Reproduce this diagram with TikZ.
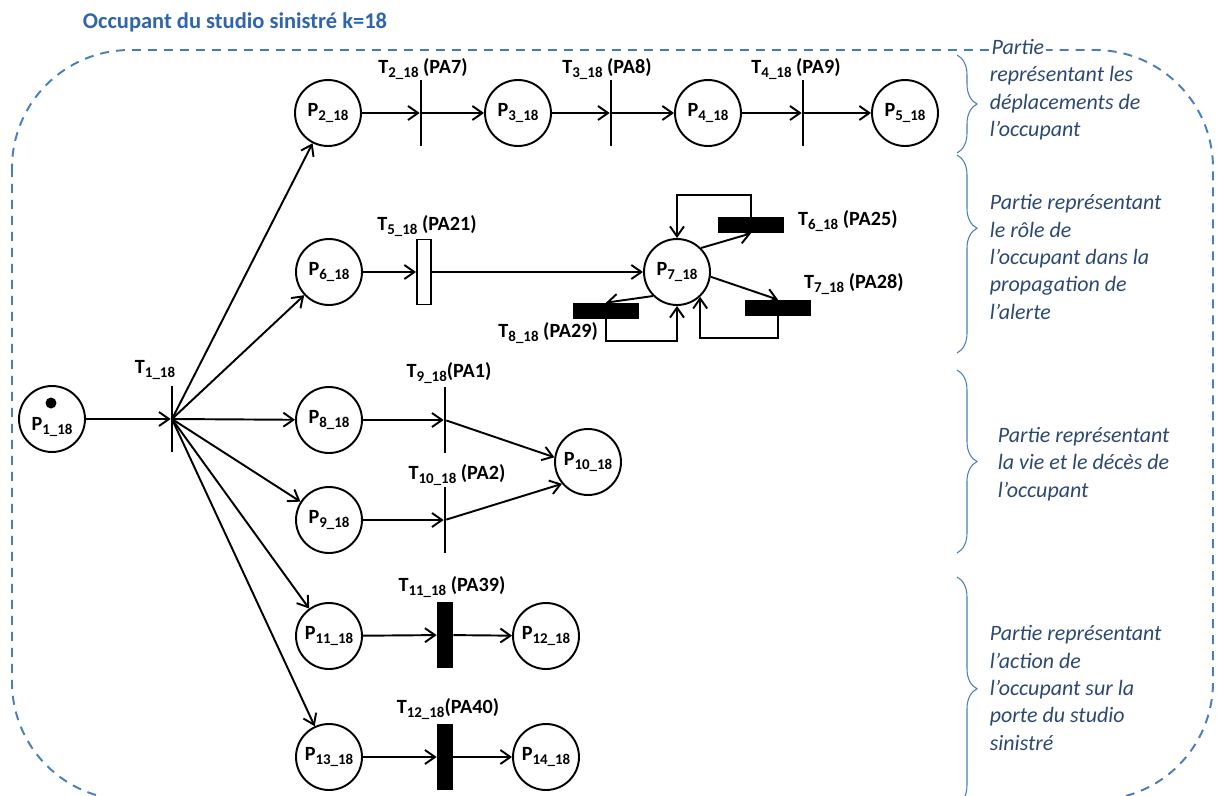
\documentclass[tikz,border=0pt]{standalone}
\usepackage{fontspec}
\setmainfont{Carlito}
\usepackage{xcolor}
\usepackage{tikz}
\usetikzlibrary{
  arrows.meta, positioning, calc, decorations.pathreplacing
}
\definecolor{frameblue}{RGB}{74,126,187}
\definecolor{titleblue}{RGB}{47,101,172}
\definecolor{notetext}{RGB}{44,72,114}
\newcommand{\subidx}[1]{\raisebox{-2.4pt}{\fontsize{8.5}{10}\selectfont#1\_18}}
\newcommand{\Pn}[1]{P\subidx{#1}}
\newcommand{\Tn}[1]{T\subidx{#1}}
\tikzset{
  place/.style={
    circle, draw, line width=1.1pt, minimum size=1.32cm, inner sep=0pt,
    font=\bfseries\fontsize{11.5}{13}\selectfont
  },
  tbar/.style={
    rectangle, fill=black, minimum width=1.1pt, minimum height=1.32cm,
    inner sep=0pt
  },
  tbox/.style={
    rectangle, draw, line width=1.1pt, fill=white, minimum width=0.28cm,
    minimum height=1.3cm, inner sep=0pt
  },
  tblockv/.style={
    rectangle, fill=black, minimum width=0.32cm, minimum height=1.32cm,
    inner sep=0pt
  },
  tblockh/.style={
    rectangle, fill=black, minimum width=1.32cm, minimum height=0.32cm,
    inner sep=0pt
  },
  tlabel/.style={
    font=\bfseries\fontsize{11.5}{13}\selectfont, inner sep=1pt
  },
  arc/.style={
    -{Straight Barb[length=2mm, width=2.8mm]}, line width=1.1pt
  },
  partbrace/.style={
    decorate, decoration={brace, amplitude=0.4cm}, draw=frameblue,
    line width=0.6pt
  },
  partnote/.style={
    anchor=west, align=left, inner sep=2pt,
    font=\itshape\fontsize{12.5}{15.6}\selectfont, text=notetext
  },
}

\begin{document}
\begin{tikzpicture}[
  x=0.02cm, y=-0.02cm,
  frame/.style={draw=frameblue, line width=1.1pt,
    dash pattern=on 0.18cm off 0.14cm, rounded corners=2.36cm},
  token/.style={circle, fill=black, minimum size=0.22cm, inner sep=0pt},
]
  \clip (0,0) rectangle (1217,795);

  % --- Frame and title ---
  \draw[frame] (12,50) rectangle (1213,800);
  \node[font=\bfseries\fontsize{12.8}{15}\selectfont, text=titleblue]
    (title) at (235,22) {Occupant du studio sinistré k=18};

  % --- Places ---
  \node[place] (P1) at (52,419) {\raisebox{-0.22cm}[0pt][0pt]{\Pn{1}}};
  \node[token] (tok) at (51,403) {};
  \node[place] (P2) at (328,113) {\Pn{2}};
  \node[place] (P3) at (518,113) {\Pn{3}};
  \node[place] (P4) at (708,113) {\Pn{4}};
  \node[place] (P5) at (905,113) {\Pn{5}};
  \node[place] (P6) at (329,272) {\Pn{6}};
  \node[place] (P7) at (677,272) {\Pn{7}};
  \node[place] (P8) at (329,420) {\Pn{8}};
  \node[place] (P9) at (329,520) {\Pn{9}};
  \node[place] (P10) at (588,462) {\Pn{10}};
  \node[place] (P11) at (329,636) {\Pn{11}};
  \node[place] (P12) at (546,636) {\Pn{12}};
  \node[place] (P13) at (329,757) {\Pn{13}};
  \node[place] (P14) at (546,757) {\Pn{14}};

  % --- Transitions ---
  \node[tbar] (T1) at (172,419) {};
  \node[tbar] (T2) at (421,113) {};
  \node[tbar] (T3) at (611,113) {};
  \node[tbar] (T4) at (803,113) {};
  \node[tbox] (T5) at (424,272) {};
  \node[tblockh] (T6) at (751,225) {};
  \node[tblockh] (T7) at (778,308) {};
  \node[tblockh] (T8) at (606,311) {};
  \node[tbar] (T9) at (445,420) {};
  \node[tbar] (T10) at (445,520) {};
  \node[tblockv] (T11) at (445,635) {};
  \node[tblockv] (T12) at (445,757) {};

  % --- Transition labels ---
  \node[tlabel] (lT1) at (155,370) {\Tn{1}};
  \node[tlabel] (lT2) at (423,69) {\Tn{2} (PA7)};
  \node[tlabel] (lT3) at (607,69) {\Tn{3} (PA8)};
  \node[tlabel] (lT4) at (796,69) {\Tn{4} (PA9)};
  \node[tlabel] (lT5) at (427,226) {\Tn{5} (PA21)};
  \node[tlabel, anchor=west] (lT6) at (796,221) {\Tn{6} (PA25)};
  \node[tlabel, anchor=west] (lT7) at (802,284) {\Tn{7} (PA28)};
  \node[tlabel, anchor=east] (lT8) at (600,333) {\Tn{8} (PA29)};
  \node[tlabel] (lT9) at (449,373) {\Tn{9}(PA1)};
  \node[tlabel] (lT10) at (457,475) {\Tn{10} (PA2)};
  \node[tlabel] (lT11) at (452,587) {\Tn{11} (PA39)};
  \node[tlabel] (lT12) at (448,709) {\Tn{12}(PA40)};

  % --- Arcs ---
  \draw[arc] (P1) -- (T1);
  \foreach \p in {P2,P6,P8,P9,P11,P13}
    \draw[arc] (T1.center) -- (\p);
  \foreach \a/\b in {P2/T2, T2/P3, P3/T3, T3/P4, P4/T4, T4/P5, P6/T5, T5/P7,
                     P8/T9, P9/T10, P11/T11, T11/P12, P13/T12, T12/P14}
    \draw[arc] (\a) -- (\b);
  \draw[arc] (T9) -- (P10.172);
  \draw[arc] (T10) -- (P10.220);

  % --- Loops round P7 ---
  \draw[arc] (P7.45) -- (T6.south);
  \draw[arc] (T6.north) -- ++(0,-22) -| (P7.north);
  \draw[arc] (P7.-8) -- (T7.north);
  \draw[arc] (T7.south) -- ++(0,22) -| (P7.-47);
  \draw[arc] (P7.225) -- (T8.north);
  \draw[arc] (T8.south) -- ++(0,22) -| (P7.south);

  % --- Parts ---
  \draw[partbrace] (957,55) -- (957,153);
  \draw[partbrace, decoration={aspect=0.37}] (957,155) -- (957,353);
  \draw[partbrace] (957,370) -- (957,553);
  \draw[partbrace, decoration={aspect=0.49}] (957,577) -- (957,805);
  \node[partnote] (note1) at (986,89)
    {{\fboxsep=1pt\colorbox{white}{Partie}}\\représentant les\\déplacements de\\l’occupant};
  \node[partnote] (note2) at (986,257)
    {Partie représentant\\le rôle de\\l’occupant dans la\\propagation de\\l’alerte};
  \node[partnote] (note3) at (994,464)
    {Partie représentant\\la vie et le décès de\\l’occupant};
  \node[partnote] (note4) at (986,688)
    {Partie représentant\\l’action de\\l’occupant sur la\\porte du studio\\sinistré};
\end{tikzpicture}
\end{document}
